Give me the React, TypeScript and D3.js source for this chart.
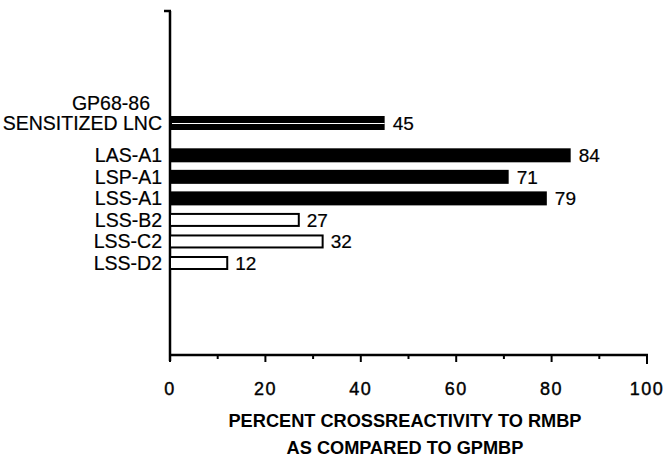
import React from "react";
import * as d3 from "d3";

const categories = [
  ["GP68-86", "SENSITIZED LNC"],
  ["LAS-A1"],
  ["LSP-A1"],
  ["LSS-A1"],
  ["LSS-B2"],
  ["LSS-C2"],
  ["LSS-D2"],
];
const values = [45, 84, 71, 79, 27, 32, 12];
const filled = [true, true, true, true, false, false, false];
const xTicks = [0, 20, 40, 60, 80, 100];
const minorTicks = [10, 30, 50, 70, 90];
const titleLines = ["PERCENT CROSSREACTIVITY TO RMBP", "AS COMPARED TO GPMBP"];

const W = 664;
const H = 458;

export default function App() {
  const x = d3.scaleLinear().domain([0, 100]).range([170, 647]);
  const rowIndex = categories.map((_, i) => (i === 0 ? 0 : i + 0.5));
  const y = d3.scaleLinear().domain([0, 6.5]).range([123, 263]);
  const axisY = 355;
  const font = "'Liberation Sans', Arial, Helvetica, sans-serif";
  const barH = 14;

  return (
    <svg width={W} height={H} style={{ position: "absolute", left: 0, top: 0, background: "#fff" }}>
      <rect x={0} y={0} width={W} height={H} fill="#fff" />
      <line x1={x(0)} x2={x(0)} y1={11} y2={axisY + 6} stroke="#000" strokeWidth={2.5} />
      <line x1={x(0) - 6} x2={x(0) + 1} y1={11} y2={11} stroke="#000" strokeWidth={2.5} />
      <line x1={x(0)} x2={x(100) + 1} y1={axisY} y2={axisY} stroke="#000" strokeWidth={2.5} />
      {xTicks.map((t) => (
        <line key={"t" + t} x1={x(t)} x2={x(t)} y1={axisY} y2={axisY + (t === 100 ? 9 : 7)} stroke="#000" strokeWidth={2} />
      ))}
      {minorTicks.map((t) => (
        <line key={"m" + t} x1={x(t)} x2={x(t)} y1={axisY} y2={axisY + 4} stroke="#000" strokeWidth={2} />
      ))}
      {xTicks.map((t) => (
        <text key={"l" + t} x={x(t)} y={395} textAnchor="middle" fontFamily={font} fontSize={18} letterSpacing={1.5} fill="#000" stroke="#000" strokeWidth={0.4}>
          {t}
        </text>
      ))}
      {categories.map((c, i) => {
        const cy = y(rowIndex[i]);
        const v = values[i];
        const f = filled[i];
        return (
          <g key={i}>
            {f ? (
              <rect x={x(0)} y={cy - barH / 2} width={x(v) - x(0)} height={barH} fill="#000" />
            ) : (
              <rect x={x(0)} y={cy - barH / 2 + 1} width={x(v) - x(0)} height={barH - 2} fill="#fff" stroke="#000" strokeWidth={2} />
            )}
            {i === 0 && (
              <line x1={x(0) + 2} x2={x(v)} y1={cy + 0.5} y2={cy + 0.5} stroke="#fff" strokeWidth={1} />
            )}
            <text x={x(v) + 8} y={cy + 7} fontFamily={font} fontSize={19} fill="#000" stroke="#000" strokeWidth={0.2}>
              {v}
            </text>
            {c.map((line, j) => (
              <text
                key={j}
                x={j < c.length - 1 ? 150 : 162}
                y={cy + 7 - (c.length - 1 - j) * 20}
                textAnchor="end"
                fontFamily={font}
                fontSize={19.5}
                fill="#000"
                stroke="#000"
                strokeWidth={0.2}
              >
                {line}
              </text>
            ))}
          </g>
        );
      })}
      {titleLines.map((t, i) => (
        <text key={t} x={405} y={427 + i * 27} textAnchor="middle" fontFamily={font} fontSize={18.2} fontWeight="bold" fill="#000">
          {t}
        </text>
      ))}
    </svg>
  );
}
